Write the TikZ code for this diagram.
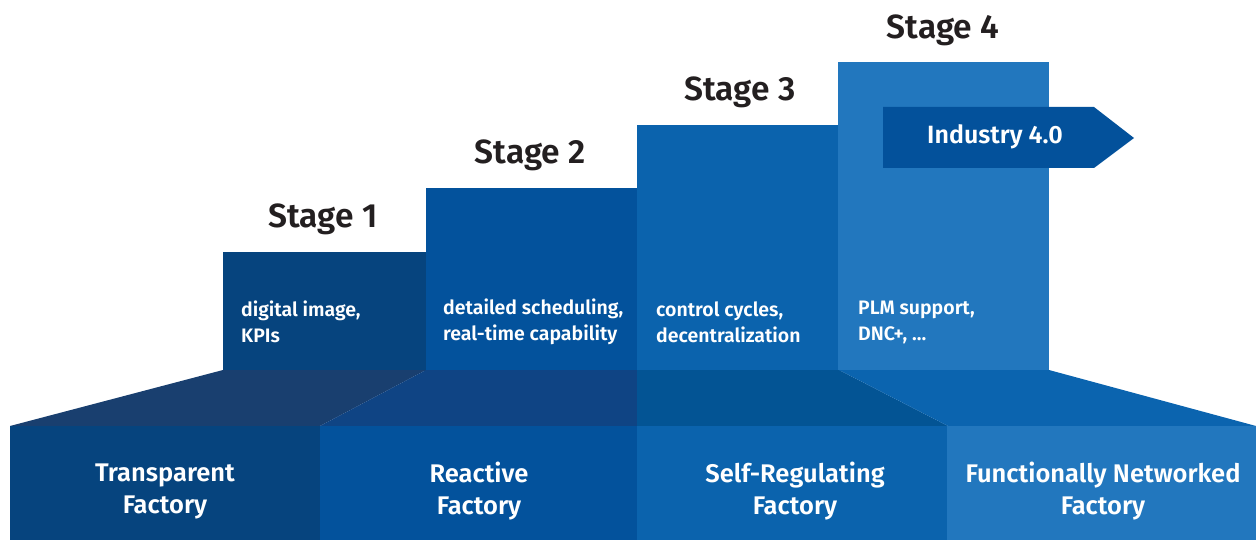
\documentclass[tikz,border=0pt]{standalone}
\usepackage{fontspec}
\setmainfont{Fira Sans}[BoldFont={Fira Sans SemiBold}]
\usepackage{xcolor}

\definecolor{stepA}{HTML}{06447E}
\definecolor{stepB}{HTML}{03529C}
\definecolor{stepC}{HTML}{0B63AD}
\definecolor{stepD}{HTML}{2277BE}
\definecolor{slopeA}{HTML}{193F6F}
\definecolor{slopeB}{HTML}{0F4484}
\definecolor{slopeC}{HTML}{035494}
\definecolor{slopeD}{HTML}{0B64AF}
\definecolor{arrowblue}{HTML}{03519B}
\definecolor{darktext}{HTML}{231F20}

\tikzset{
  stagelabel/.style={text=darktext, font=\bfseries\fontsize{33.5}{38}\selectfont},
  notelabel/.style={text=white, anchor=west, align=left, inner sep=0pt,
                    font=\bfseries\fontsize{19.5}{26}\selectfont},
  factorylabel/.style={text=white, align=center, inner sep=0pt,
                       font=\bfseries\fontsize{25.5}{32}\selectfont}
}

\begin{document}
\begin{tikzpicture}[x=1pt, y=-1pt]
    \useasboundingbox (0,0) rectangle (1256,540);
    % the four steps
    \foreach \xa/\xb/\ytop/\col in {223/426/252/stepA, 426/637/188/stepB,
                                    637/838/125/stepC, 838/1049/62/stepD}
      \fill[color=\col] (\xa,\ytop) rectangle (\xb,370.5);
    % sloped band under the steps
    \fill[slopeA] (10,426) -- (223,370) -- (426,370) -- (320,426) -- cycle;
    \fill[slopeB] (320,426) -- (426,370) -- (637,370) -- (637,426) -- cycle;
    \fill[slopeC] (637,426) -- (637,370) -- (839,370) -- (948,426) -- cycle;
    \fill[slopeD] (948,426) -- (839,370) -- (1049,370) -- (1256,426) -- cycle;
    % bottom row
    \foreach \xa/\xb/\col in {10/320/stepA, 320/637/stepB, 637/947/stepC, 947/1256/stepD}
      \fill[color=\col] (\xa,425.5) rectangle (\xb,540);
    % arrow on the last step
    \fill[arrowblue] (883,107) -- (1094,107) -- (1134,138) -- (1094,168) -- (883,168) -- cycle;
    \node[text=white, font=\bfseries\fontsize{25}{28}\selectfont] (industry) at (995,137) {Industry 4.0};
    % labels
    \foreach \i/\x/\y in {1/323/219, 2/530/155, 3/740/92, 4/943/30}
      \node[stagelabel] (stage\i) at (\x,\y) {Stage \i};
    \node[notelabel] (note1) at (241,322) {digital image,\\KPIs};
    \node[notelabel] (note2) at (443,322) {detailed scheduling,\\real-time capability};
    \node[notelabel] (note3) at (656,322) {control cycles,\\decentralization};
    \node[notelabel] (note4) at (858,322) {PLM support,\\DNC+, \dots};
    \node[factorylabel] (factory1) at (165,491) {Transparent\\Factory};
    \node[factorylabel] (factory2) at (479,491) {Reactive\\Factory};
    \node[factorylabel] (factory3) at (795,491) {Self-Regulating\\Factory};
    \node[factorylabel] (factory4) at (1103,491) {Functionally Networked\\Factory};
  \end{tikzpicture}
\end{document}
